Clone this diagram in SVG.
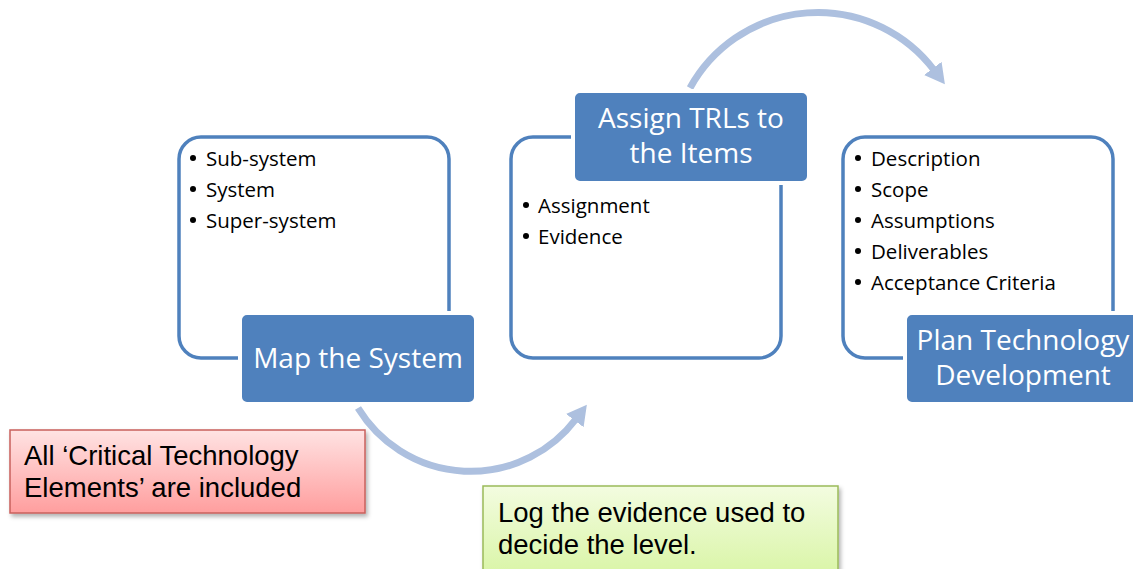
<svg xmlns="http://www.w3.org/2000/svg" width="1133" height="569" viewBox="0 0 1133 569">
<style>
.frame{fill:#fff;stroke:#4f81bd;stroke-width:3.5}
.head{fill:#4f81bd;stroke:#fff;stroke-width:4}
.ht{font-family:"Open Sans",sans-serif;font-size:28px;fill:#fff;text-anchor:middle}
.bt{font-family:"Open Sans",sans-serif;font-size:20.5px;fill:#000}
.dot{fill:#000}
.nt{font-family:"Liberation Sans",Arial,sans-serif;font-size:27.5px;fill:#000}
.arc{fill:none;stroke:#adc0df;stroke-width:7}
</style>
<defs>
<linearGradient id="gRed" x1="0" y1="0" x2="0" y2="1">
<stop offset="0" stop-color="#ffe3e3"/><stop offset="1" stop-color="#ff9e9e"/>
</linearGradient>
<linearGradient id="gGreen" x1="0" y1="0" x2="0" y2="1">
<stop offset="0" stop-color="#f3fce0"/><stop offset="1" stop-color="#d9f5a6"/>
</linearGradient>
<filter id="sh" x="-10%" y="-10%" width="130%" height="140%">
<feDropShadow dx="2" dy="3" stdDeviation="2" flood-color="#000" flood-opacity="0.3"/>
</filter>
<marker id="ah" markerUnits="userSpaceOnUse" markerWidth="30" markerHeight="30" refX="2" refY="11" orient="auto">
<path d="M0,0 L20,11 L0,22 Z" fill="#adc0df"/>
</marker>
</defs>
<g id="connectors">
<path class="arc" d="M358,408 A132,132 0 0 0 576,419" marker-end="url(#ah)"/>
<path class="arc" d="M690,88 A146,146 0 0 1 934,70" marker-end="url(#ah)"/>
</g>
<g id="map-system">
<rect class="frame" x="179" y="137" width="270" height="221" rx="22"/>
<circle class="dot" cx="193" cy="158" r="3"/>
<circle class="dot" cx="193" cy="189" r="3"/>
<circle class="dot" cx="193" cy="220" r="3"/>
<text class="bt" x="206" y="166">Sub-system</text>
<text class="bt" x="206" y="197">System</text>
<text class="bt" x="206" y="228">Super-system</text>
<rect class="head" x="240" y="313" width="236" height="91" rx="7"/>
<text class="ht" x="358" y="368">Map the System</text>
</g>
<g id="assign-trls">
<rect class="frame" x="511" y="137" width="270" height="221" rx="22"/>
<circle class="dot" cx="526" cy="205" r="3"/>
<circle class="dot" cx="526" cy="236" r="3"/>
<text class="bt" x="538" y="213">Assignment</text>
<text class="bt" x="538" y="244">Evidence</text>
<rect class="head" x="573" y="91" width="236" height="92" rx="7"/>
<text class="ht" x="691" y="128">Assign TRLs to</text>
<text class="ht" x="691" y="163">the Items</text>
</g>
<g id="plan-tech">
<rect class="frame" x="843" y="137" width="270" height="221" rx="22"/>
<circle class="dot" cx="858" cy="158" r="3"/>
<circle class="dot" cx="858" cy="189" r="3"/>
<circle class="dot" cx="858" cy="220" r="3"/>
<circle class="dot" cx="858" cy="251" r="3"/>
<circle class="dot" cx="858" cy="282" r="3"/>
<text class="bt" x="871" y="166">Description</text>
<text class="bt" x="871" y="197">Scope</text>
<text class="bt" x="871" y="228">Assumptions</text>
<text class="bt" x="871" y="259">Deliverables</text>
<text class="bt" x="871" y="290">Acceptance Criteria</text>
<rect class="head" x="905" y="313" width="236" height="91" rx="7"/>
<text class="ht" x="1023" y="350">Plan Technology</text>
<text class="ht" x="1023" y="385">Development</text>
</g>
<g id="note-cte">
<rect x="10" y="430" width="355" height="83" fill="url(#gRed)" stroke="#c9605c" stroke-width="1.5" filter="url(#sh)"/>
<text class="nt" x="24" y="465">All ‘Critical Technology</text>
<text class="nt" x="24" y="497">Elements’ are included</text>
</g>
<g id="note-log">
<rect x="483" y="486" width="355" height="90" fill="url(#gGreen)" stroke="#9bbb59" stroke-width="1.5" filter="url(#sh)"/>
<text class="nt" x="498" y="522">Log the evidence used to</text>
<text class="nt" x="498" y="554">decide the level.</text>
</g>
</svg>
